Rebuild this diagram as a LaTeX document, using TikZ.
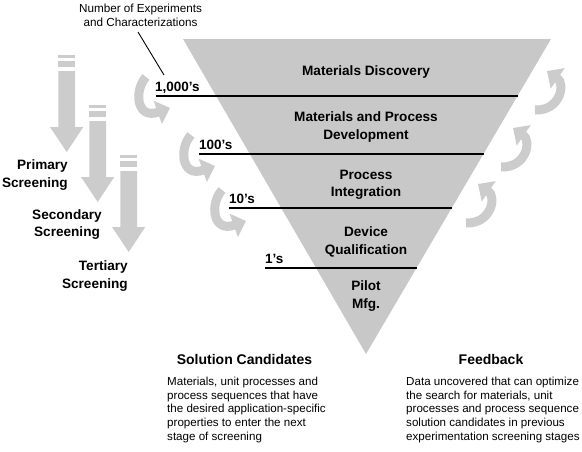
\documentclass[tikz,border=0pt]{standalone}
\usepackage{fontspec}
\setmainfont{Liberation Sans}
\usetikzlibrary{arrows.meta}
\definecolor{tgray}{RGB}{200,200,200}
\definecolor{agray}{RGB}{204,204,204}
\begin{document}
\begin{tikzpicture}[x=1pt,y=-1pt,
  stage/.style={font=\fontsize{13.6}{17.5}\selectfont\bfseries, align=center, inner sep=0pt},
  cnt/.style={font=\fontsize{13.5}{16}\selectfont\bfseries, anchor=base west, inner sep=0pt},
  lvl/.style={line width=2.6pt},
  curv/.style={draw=agray, line width=9pt, -{Triangle[width=24pt,length=13pt]}},
  scr/.style={font=\fontsize{13.6}{18}\selectfont\bfseries, inner sep=0pt},
  head/.style={font=\fontsize{14}{16}\selectfont\bfseries, inner sep=0pt},
  body/.style={font=\fontsize{11.6}{13.6}\selectfont, align=left, inner sep=0pt, anchor=north west},
  note/.style={font=\fontsize{11.7}{14}\selectfont, align=center, inner sep=0pt}]
\useasboundingbox (0,0) rectangle (582,451);

% funnel
\fill[tgray] (183,39) -- (551,39) -- (366,354) -- cycle;

% level lines
\coordinate (l1a) at (156,96);  \coordinate (l1b) at (517.5,96);
\coordinate (l2a) at (199,154); \coordinate (l2b) at (483.5,154);
\coordinate (l3a) at (229,208); \coordinate (l3b) at (451.8,208);
\coordinate (l4a) at (265,268); \coordinate (l4b) at (416.6,268);
\draw[lvl] (l1a) -- (l1b);
\draw[lvl] (l2a) -- (l2b);
\draw[lvl] (l3a) -- (l3b);
\draw[lvl] (l4a) -- (l4b);

% counts
\node[cnt] (c1) at (155,91) {1,000’s};
\node[cnt] (c2) at (199,149) {100’s};
\node[cnt] (c3) at (229,203) {10’s};
\node[cnt] (c4) at (265,263) {1’s};

% stages
\node[stage] (s1) at (366,72) {Materials Discovery};
\node[stage] (s2) at (366,127) {Materials and Process\\Development};
\node[stage] (s3) at (366,185) {Process\\Integration};
\node[stage] (s4) at (366,242) {Device\\Qualification};
\node[stage] (s5) at (366,296) {Pilot\\Mfg.};

% annotation
\node[note] (ann) at (140.5,15) {Number of Experiments\\and Characterizations};
\coordinate (annA) at (138,32);
\coordinate (annB) at (164,75);
\draw[line width=0.9pt] (annA) -- (annB);

% vertical screening arrows
\foreach \dx/\dy in {0/0, 31/50, 62/100}{
  \begin{scope}[shift={(\dx,\dy)}]
    \fill[agray] (58.3,55) rectangle (75,58);
    \fill[agray] (58.3,61) rectangle (75,67);
    \fill[agray] (58.3,71) -- (75,71) -- (75,127) -- (83.3,127) -- (66.7,152)
      -- (50,127) -- (58.3,127) -- cycle;
  \end{scope}
}

% screening labels
\node[scr, anchor=east] (p1) at (68,165.5) {Primary};
\node[scr, anchor=east] (p2) at (68,184) {Screening};
\node[scr] (q1) at (67,215.5) {Secondary};
\node[scr] (q2) at (67,233.5) {Screening};
\node[scr, anchor=east] (t1) at (128,267) {Tertiary};
\node[scr, anchor=east] (t2) at (128,285) {Screening};

% left curved arrows
\foreach \dx/\dy in {0/0, 45/58, 76/113}{
  \begin{scope}[shift={(\dx,\dy)}]
    \draw[curv] (146,77) .. controls (134,90) and (136,120) .. (170,108);
  \end{scope}
}
% right curved arrows
\foreach \dx/\dy in {0/0, -34/57, -69/113}{
  \begin{scope}[shift={(\dx,\dy)}]
    \draw[curv] (535,110) .. controls (560,111) and (566,84) .. (547,71);
  \end{scope}
}

% bottom texts
\node[head] (hs) at (244.5,359) {Solution Candidates};
\node[body] (bs) at (167,377) {Materials, unit processes and\\process sequences that have\\the desired application-specific\\properties to enter the next\\stage of screening};
\node[head] (hf) at (491,359) {Feedback};
\node[body] (bf) at (406,377) {Data uncovered that can optimize\\the search for materials, unit\\processes and process sequence\\solution candidates in previous\\experimentation screening stages};
\end{tikzpicture}
\end{document}
